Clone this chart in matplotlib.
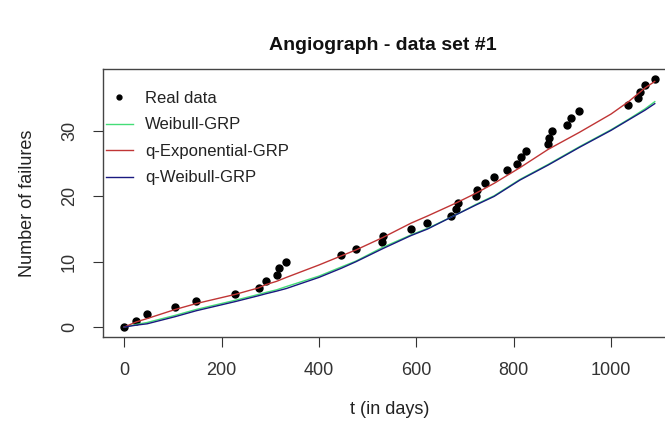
import matplotlib
matplotlib.use("Agg")
from matplotlib import pyplot as plt

plt.rcParams['font.family'] = ['Liberation Sans', 'DejaVu Sans']

# observed failures (cumulative count vs time)
t_obs = [0, 25, 47, 105, 148, 228, 276, 291, 313, 318, 333, 446, 476, 530, 531,
         589, 623, 671, 682, 686, 723, 725, 742, 760, 786, 806, 815, 825, 871,
         873, 879, 910, 918, 935, 1036, 1055, 1059, 1070, 1090]
n_obs = list(range(39))

# fitted models
t_fit = [0, 25, 47, 105, 148, 228, 276, 291, 313, 333, 400, 446, 476, 531, 589,
         623, 682, 723, 760, 813, 871, 935, 1000, 1036, 1070, 1090]
weibull = [0, 0.4, 0.7, 1.8, 2.7, 4.1, 5.0, 5.3, 5.7, 6.2, 7.8, 9.2, 10.1, 12.2,
           14.1, 15.1, 17.2, 18.8, 20.1, 22.6, 24.9, 27.6, 30.2, 31.8, 33.4, 34.5]
q_exp = [0, 0.8, 1.3, 2.7, 3.6, 5.0, 6.0, 6.5, 7.0, 7.6, 9.5, 10.9, 11.8, 13.7,
         15.9, 17.0, 19.0, 20.5, 22.0, 24.4, 27.2, 29.8, 32.6, 34.5, 36.6, 37.6]
q_weibull = [0, 0.3, 0.5, 1.6, 2.5, 3.9, 4.8, 5.1, 5.5, 5.9, 7.6, 9.0, 10.0, 12.0,
             14.0, 15.0, 17.2, 18.7, 20.0, 22.5, 24.8, 27.5, 30.1, 31.7, 33.2, 34.2]

W, H = 665, 430
fig = plt.figure(figsize=(W / 100, H / 100), dpi=100)
ax = fig.add_axes([103 / W, 1 - 337 / H, 573 / W, 268 / H])

ax.plot(t_obs, n_obs, 'o', color='black', markersize=5, label='Real data')
ax.plot(t_fit, weibull, color='#44dd77', lw=1, label='Weibull-GRP')
ax.plot(t_fit, q_exp, color='#c03535', lw=1, label='q-Exponential-GRP')
ax.plot(t_fit, q_weibull, color='#1a1a80', lw=1, label='q-Weibull-GRP')

ax.set_xlim(-43.6, 1133.6)
ax.set_ylim(-1.52, 39.5)
ax.set_xticks([0, 200, 400, 600, 800, 1000])
ax.set_yticks([0, 10, 20, 30])
ax.tick_params(direction='out', length=7, width=0.8, labelsize=13,
               pad=11, colors='#333333')
for lab in ax.get_yticklabels():
    lab.set_rotation(90)
    lab.set_va('center')
for s in ax.spines.values():
    s.set_color('#444444')
    s.set_linewidth(1)

ax.set_xlabel('t (in days)', fontsize=13, color='#222222', labelpad=16)
ax.set_ylabel('Number of failures', fontsize=13, color='#222222', labelpad=18)
fig.text(383 / W, 1 - 45 / H, 'Angiograph - data set #1', fontsize=14,
         fontweight='bold', ha='center', va='center', color='#111111')

leg = ax.legend(loc='upper left', bbox_to_anchor=(0.005, 0.918), frameon=False,
                fontsize=12, handlelength=1.6, handletextpad=0.75,
                labelspacing=0.69, borderpad=0, borderaxespad=0, markerscale=0.7)
for t in leg.get_texts():
    t.set_color('#222222')

fig.savefig('out.png', dpi=100)
